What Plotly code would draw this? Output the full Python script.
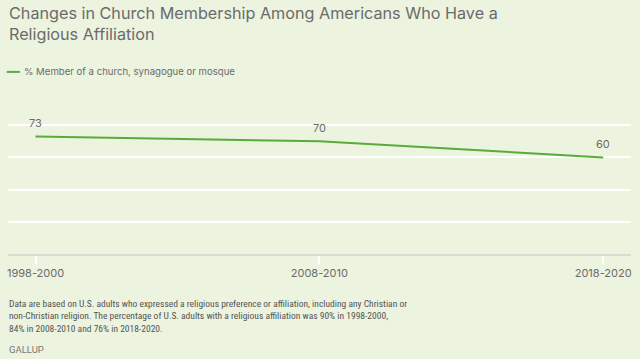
import plotly.graph_objects as go

periods = ["1998-2000", "2008-2010", "2018-2020"]
member_pct = [73, 70, 60]
y_ticks = [0, 20, 40, 60, 80, 100]

series_name = "% Member of a church, synagogue or mosque"
title_text = "Changes in Church Membership Among Americans Who Have a<br>Religious Affiliation"
note_text = ("Data are based on U.S. adults who expressed a religious preference or affiliation, including any Christian or<br>"
             "non-Christian religion. The percentage of U.S. adults with a religious affiliation was 90% in 1998-2000,<br>"
             "84% in 2008-2010 and 76% in 2018-2020.")

BG = "#ecf3df"
GREEN = "#5aab3c"
GRAY = "#6b6b6b"
FONT = "Inter, Roboto, sans-serif"

fig = go.Figure()
fig.add_trace(go.Scatter(
    x=periods, y=member_pct, mode="lines",
    line=dict(color=GREEN, width=2),
    name=series_name, showlegend=False, hoverinfo="x+y",
))

# value labels above the points
for p, v in zip(periods, member_pct):
    fig.add_annotation(x=p, y=v, text=str(v), showarrow=False,
                       yanchor="middle", yshift=13,
                       font=dict(family=FONT, size=11, color=GRAY))

fig.update_layout(
    width=640, height=359,
    paper_bgcolor=BG, plot_bgcolor=BG,
    margin=dict(l=8, r=9, t=92, b=105),
    xaxis=dict(
        type="category", range=[-0.097, 2.098],
        showgrid=False, showline=True, linecolor="#dadcd4", linewidth=2,
        ticks="outside", ticklen=8, tickcolor="#ffffff", tickwidth=2,
        tickfont=dict(family=FONT, size=11, color=GRAY),
        fixedrange=True, zeroline=False,
    ),
    yaxis=dict(
        range=[0, 100.6], tickvals=y_ticks, showticklabels=False,
        showgrid=True, gridcolor="#ffffff", gridwidth=2, zeroline=False,
        fixedrange=True,
    ),
    font=dict(family=FONT, color=GRAY),
)

# Title
fig.add_annotation(
    text=title_text, xref="paper", yref="paper", x=0.0, y=1.0,
    xanchor="left", yanchor="bottom", align="left", showarrow=False,
    yshift=46, xshift=-1,
    font=dict(family=FONT, size=16.2, color=GRAY),
)
# Legend sample and label
fig.add_shape(type="line", xref="paper", yref="paper", x0=-0.002, x1=0.019,
              y0=1.124, y1=1.124, line=dict(color=GREEN, width=2))
fig.add_annotation(
    text=series_name, xref="paper", yref="paper", x=0.022, y=1.124,
    xanchor="left", yanchor="middle", showarrow=False,
    font=dict(family=FONT, size=9.6, color=GRAY),
)
# Footnote
fig.add_annotation(
    text=note_text, xref="paper", yref="paper", x=0.0, y=0.0,
    xanchor="left", yanchor="top", align="left", showarrow=False,
    yshift=-42, xshift=-1,
    font=dict(family="Roboto Condensed, Roboto, sans-serif", size=9.5, color="#555555"),
)
fig.add_annotation(
    text="GALLUP", xref="paper", yref="paper", x=0.0, y=0.0,
    xanchor="left", yanchor="top", align="left", showarrow=False,
    yshift=-88, xshift=-1,
    font=dict(family="Roboto, sans-serif", size=9.5, color="#777777"),
)

fig.write_html("out.html", config={"displayModeBar": False},
               post_script="document.body.style.margin='0px';")
